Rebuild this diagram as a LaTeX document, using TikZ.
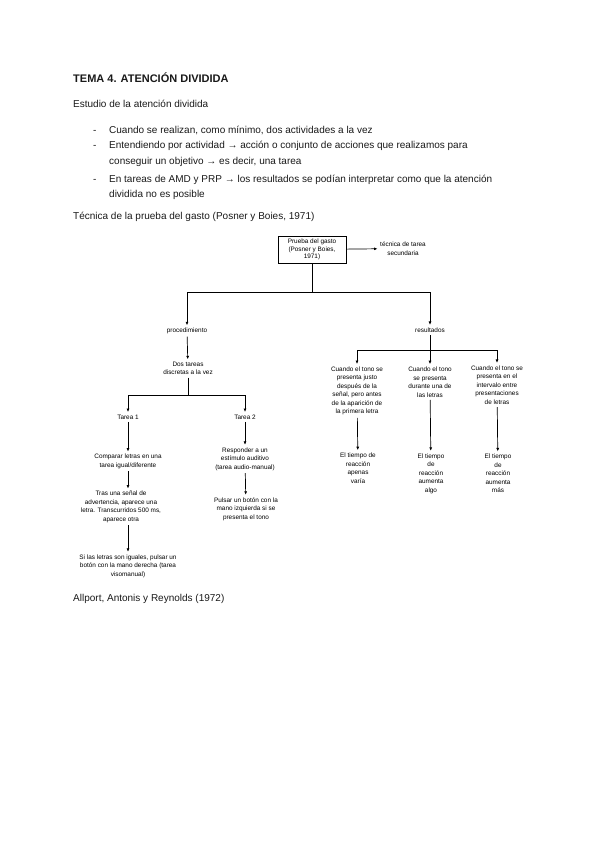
\documentclass[tikz,border=0pt]{standalone}
\usepackage{fontspec}
\setmainfont{Liberation Sans}
\usepackage{tikz}
\usetikzlibrary{arrows.meta,positioning}

\begin{document}
\begin{tikzpicture}[x=1pt,y=-1pt,
    body/.style={font=\fontsize{10}{15}\selectfont, anchor=base west, inner sep=0pt, align=left, text=black!90},
    lbl/.style={font=\fontsize{6.4}{8.5}\selectfont, align=center, inner sep=2.5pt},
    box/.style={draw, line width=0.8pt, minimum width=68pt, minimum height=27pt, inner sep=1pt, font=\fontsize{6.4}{7.5}\selectfont, align=center},
    ln/.style={line width=0.7pt},
    arr/.style={-{Latex[length=3.5pt,width=3pt]}, line width=0.7pt}
]
    \useasboundingbox (0,0) rectangle (599,848);

    \node[body, font=\fontsize{11}{13}\selectfont\bfseries] (title) at (73,83) {TEMA 4. ATENCIÓN DIVIDIDA};
    \node[body] (intro) at (73,108) {Estudio de la atención dividida};
    \node[body] (d1) at (93,133) {-};
    \node[body] (b1) at (109,133) {Cuando se realizan, como mínimo, dos actividades a la vez};
    \node[body] (d2) at (93,149) {-};
    \node[body] (b2) at (109,164) {Entendiendo por actividad → acción o conjunto de acciones que realizamos para\\conseguir un objetivo → es decir, una tarea};
    \node[body] (d3) at (93,182) {-};
    \node[body] (b3) at (109,197) {En tareas de AMD y PRP → los resultados se podían interpretar como que la atención\\dividida no es posible};
    \node[body] (tecnica) at (73,219) {Técnica de la prueba del gasto (Posner y Boies, 1971)};

    \node[box] (gasto) at (312,249.5) {Prueba del gasto\\(Posner y Boies,\\1971)};
    \node[lbl] (sec) at (403,248.5) {técnica de tarea\\secundaria};
    \coordinate (s1) at (312,292);
    \node[lbl] (proc) at (187,331) {procedimiento};
    \node[lbl] (res) at (430,330) {resultados};

    \node[lbl] (dos) at (188,368.5) {Dos tareas\\discretas a la vez};
    \coordinate (s2) at (188,395);
    \node[lbl] (t1) at (128,417) {Tarea 1};
    \node[lbl] (t2) at (245,417) {Tarea 2};
    \node[lbl] (comp) at (128,461.5) {Comparar letras en una\\tarea igual/diferente};
    \node[lbl] (tras) at (121,507) {Tras una señal de\\advertencia, aparece una\\letra. Transcurridos 500 ms,\\aparece otra};
    \node[lbl] (si) at (128,566) {Si las letras son iguales, pulsar un\\botón con la mano derecha (tarea\\visomanual)};
    \node[lbl] (resp) at (245,459) {Responder a un\\estímulo auditivo\\(tarea audio-manual)};
    \node[lbl] (puls) at (246,509) {Pulsar un botón con la\\mano izquierda si se\\presenta el tono};

    \coordinate (s3) at (430,350);
    \node[lbl] (c1) at (357,391) {Cuando el tono se\\presenta justo\\después de la\\señal, pero antes\\de la aparición de\\la primera letra};
    \node[lbl] (c2) at (430,382) {Cuando el tono\\se presenta\\durante una de\\las letras};
    \node[lbl] (c3) at (497,385) {Cuando el tono se\\presenta en el\\intervalo entre\\presentaciones\\de letras};
    \node[lbl] (r1) at (358,468) {El tiempo de\\reacción\\apenas\\varía};
    \node[lbl] (r2) at (431,473.5) {El tiempo\\de\\reacción\\aumenta\\algo};
    \node[lbl] (r3) at (498,473.5) {El tiempo\\de\\reacción\\aumenta\\más};

    \node[body] (allport) at (73,601) {Allport, Antonis y Reynolds (1972)};

    \draw[arr] (gasto) -- (sec);
    \draw[ln] (gasto) -- (s1);
    \draw[arr] (s1) -| (proc);
    \draw[arr] (s1) -| (res);
    \draw[arr] (proc) -- (dos);
    \draw[ln] (dos) -- (s2);
    \draw[arr] (s2) -| (t1);
    \draw[arr] (s2) -| (t2);
    \draw[arr] (t1) -- (comp);
    \draw[arr] (comp) -- (comp |- tras.north);
    \draw[arr] (tras.south -| comp) -- (comp |- si.north);
    \draw[arr] (t2) -- (resp);
    \draw[arr] (resp) -- (puls);
    \draw[ln] (res) -- (s3);
    \draw[arr] (s3) -| (c1);
    \draw[arr] (s3) -- (c2);
    \draw[arr] (s3) -| (c3);
    \draw[arr] (c1) -- (r1);
    \draw[arr] (c2) -- (r2);
    \draw[arr] (c3) -- (r3);
\end{tikzpicture}
\end{document}
